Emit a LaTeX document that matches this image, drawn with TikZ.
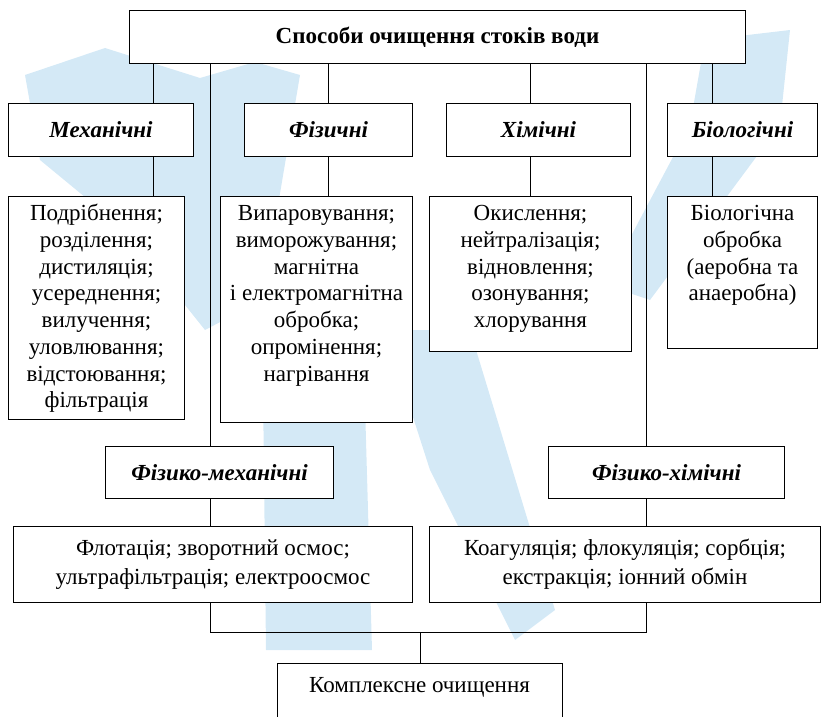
\documentclass[tikz,border=0pt]{standalone}
\usepackage{fontspec}
\setmainfont{Liberation Serif}
\usetikzlibrary{calc}
\definecolor{wm}{RGB}{212,233,246}
\begin{document}
\begin{tikzpicture}[x=1pt,y=-1pt,
  box/.style={draw, line width=1pt, fill=white, inner sep=0pt, anchor=north west,
    font=\fontsize{23}{26.7}\selectfont, align=center},
  cat/.style={box, font=\fontsize{23}{26.7}\selectfont\bfseries\itshape},
  dtext/.style={anchor=north, inner sep=0pt, align=center, font=\fontsize{23}{26.7}\selectfont},
  link/.style={line width=1pt},
  mark/.style={fill=wm, draw=none}]
\useasboundingbox (0,0) rectangle (822,717);
\clip (0,0) rectangle (822,717);
% faint background watermark
\fill[wm] (25,75) -- (105,48) -- (200,78) -- (255,62) -- (300,75) -- (262,300) -- (205,330) -- (125,230) -- (40,160) -- cycle;
\fill[wm] (262,300) -- (362,300) -- (372,650) -- (266,650) -- cycle;
\fill[wm] (385,330) -- (470,330) -- (555,610) -- (515,640) -- (430,470) -- cycle;
\fill[wm] (705,40) -- (790,30) -- (780,125) -- (650,300) -- (605,285) -- (690,125) -- cycle;
% boxes
\node[box, minimum width=616pt, minimum height=53pt, font=\fontsize{23}{26.7}\selectfont\bfseries] (top) at (129,10) {Способи очищення стоків води};
\node[cat, minimum width=185pt, minimum height=53pt] (mech) at (8,103) {Механічні};
\node[cat, minimum width=168pt, minimum height=53pt] (phys) at (244,103) {Фізичні};
\node[cat, minimum width=184pt, minimum height=53pt] (chem) at (446,103) {Хімічні};
\node[cat, minimum width=150pt, minimum height=53pt] (bio) at (667,103) {Біологічні};
\node[box, minimum width=176pt, minimum height=223pt] (mechd) at (8,196) {};
\node[box, minimum width=192pt, minimum height=226pt] (physd) at (220,196) {};
\node[box, minimum width=202pt, minimum height=155pt] (chemd) at (429,196) {};
\node[box, minimum width=150pt, minimum height=152pt] (biod) at (667,196) {};
\node[cat, minimum width=228pt, minimum height=52pt] (fm) at (105,446) {Фізико-механічні};
\node[cat, minimum width=236pt, minimum height=52pt] (fh) at (548,446) {Фізико-хімічні};
\node[box, minimum width=399pt, minimum height=76pt, font=\fontsize{23}{29}\selectfont] (fmd) at (13,526) {Флотація; зворотний осмос;\\ультрафільтрація; електроосмос};
\node[box, minimum width=391pt, minimum height=76pt, font=\fontsize{23}{29}\selectfont] (fhd) at (429,526) {Коагуляція; флокуляція; сорбція;\\екстракція; іонний обмін};
\node[box, minimum width=285pt, minimum height=70pt] (kom) at (277,663) {};
% texts of the detail boxes
\node[dtext] (mecht) at ($(mechd.north)+(0,6)$) {\strut Подрібнення;\\розділення;\\дистиляція;\\усереднення;\\вилучення;\\уловлювання;\\відстоювання;\\фільтрація};
\node[dtext] (physt) at ($(physd.north)+(0,6)$) {\strut Випаровування;\\виморожування;\\магнітна\\і електромагнітна\\обробка;\\опромінення;\\нагрівання};
\node[dtext] (chemt) at ($(chemd.north)+(0,6)$) {\strut Окислення;\\нейтралізація;\\відновлення;\\озонування;\\хлорування};
\node[dtext] (biot) at ($(biod.north)+(0,6)$) {\strut Біологічна\\обробка\\(аеробна та\\анаеробна)};
\node[dtext, anchor=base] (komt) at (419.5,692) {Комплексне очищення};
% connector positions
\coordinate (c1) at (153,0);
\coordinate (c4) at (712,0);
\coordinate (c5) at (210,0);
\coordinate (c7) at (646,0);
\coordinate (j) at (0,632);
% connectors
\draw[link] (top.south -| c1) -- (mech.north -| c1);
\draw[link] (mech.south -| c1) -- (mechd.north -| c1);
\draw[link] (top.south -| phys.north) -- (phys.north);
\draw[link] (phys.south) -- (physd.north -| phys.south);
\draw[link] (top.south -| chemd.north) -- (chem.north -| chemd.north);
\draw[link] (chem.south -| chemd.north) -- (chemd.north);
\draw[link] (top.south -| c4) -- (bio.north -| c4);
\draw[link] (bio.south -| c4) -- (biod.north -| c4);
\draw[link] (top.south -| c5) -- (fm.north -| c5);
\draw[link] (fm.south -| c5) -- (fmd.north -| c5);
\draw[link] (top.south -| c7) -- (fh.north -| c7);
\draw[link] (fh.south -| c7) -- (fhd.north -| c7);
\draw[link] (fmd.south -| c5) -- (j -| c5) -- (j -| c7) -- (fhd.south -| c7);
\draw[link] (kom.north) -- (j -| kom.north);
\end{tikzpicture}
\end{document}
